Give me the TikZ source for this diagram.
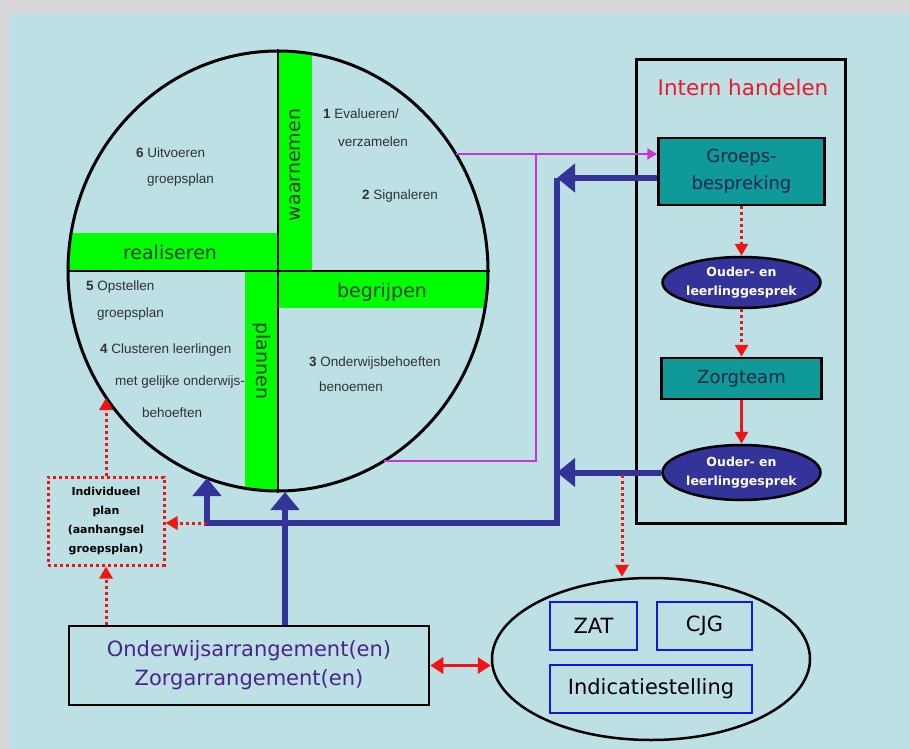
\documentclass[tikz,border=0pt]{standalone}
\usepackage{fontspec}
\setmainfont{Liberation Sans}
\newfontfamily\comicfont{DejaVu Sans}
\usetikzlibrary{shapes.geometric,arrows.meta}
\definecolor{panel}{RGB}{188,224,227}
\definecolor{frame}{RGB}{216,216,216}
\definecolor{bandgreen}{RGB}{0,255,0}
\definecolor{bandtext}{RGB}{25,60,25}
\definecolor{steptext}{RGB}{50,50,50}
\definecolor{tealbox}{RGB}{16,153,153}
\definecolor{navytext}{RGB}{25,40,70}
\definecolor{navy}{RGB}{51,51,153}
\definecolor{flowpink}{RGB}{204,51,204}
\definecolor{flowred}{RGB}{240,20,20}
\definecolor{titlered}{RGB}{235,25,45}
\definecolor{arrtext}{RGB}{75,35,140}
\definecolor{boxblue}{RGB}{20,20,235}

\begin{document}
\begin{tikzpicture}[x=1pt,y=-1pt,
		band/.style={fill=bandgreen},
		band label/.style={text=bandtext,font=\comicfont\fontsize{19pt}{19pt}\selectfont},
		step text/.style={anchor=west,inner sep=0pt,text=steptext,font=\fontsize{13.5pt}{14pt}\selectfont},
		teal box/.style={draw,line width=2.5pt,fill=tealbox,text=navytext,align=center,inner sep=0pt,
			font=\comicfont\fontsize{18pt}{27pt}\selectfont},
		talk/.style={ellipse,draw,line width=2.5pt,fill=navy,text=white,align=center,inner sep=0pt,
			minimum width=158pt,font=\comicfont\bfseries\fontsize{12.5pt}{19pt}\selectfont},
		blue box/.style={draw=boxblue,line width=2.5pt,inner sep=0pt,minimum height=48pt,
			font=\comicfont\fontsize{21pt}{21pt}\selectfont},
		blue flow/.style={navy,line width=6pt,-{Triangle[width=28pt,length=18pt]}},
		pink flow/.style={flowpink,line width=2pt},
		red dots/.style={flowred,line width=3pt,dash pattern=on 3pt off 3pt},
		red tip/.style={-{Triangle[width=13pt,length=12pt]}}]

	\useasboundingbox (0,0) rectangle (910,749);
	\fill[frame] (0,0) rectangle (910,749);
	\fill[panel] (9,13) rectangle (910,749);

	\begin{scope}
		\clip (278,271) ellipse [x radius=210, y radius=220];
		\fill[band] (278,40) rectangle (312,271);
		\fill[band] (60,233) rectangle (278,271);
		\fill[band] (278,271) rectangle (500,308);
		\fill[band] (245,271) rectangle (278,500);
	\end{scope}

	\node [ellipse, draw, line width=3pt, minimum width=420pt, minimum height=440pt, inner sep=0pt] (cycle) at (278,271) {};
	\draw[line width=2.5pt] (cycle.north) -- (cycle.south);
	\draw[line width=2.5pt] (cycle.west) -- (cycle.east);

	\node [band label, rotate=90] (lab-waar) at (295,165) {waarnemen};
	\node [band label] (lab-real) at (170,252) {realiseren};
	\node [band label] (lab-begr) at (382,292) {begrijpen};
	\node [band label, rotate=-90] (lab-plan) at (262,361) {plannen};

	\node [step text] (step-1) at (323,114) {\textbf{1} Evalueren/};
	\node [step text] (step-1b) at (338,142) {verzamelen};
	\node [step text] (step-2) at (362,196) {\textbf{2} Signaleren};
	\node [step text] (step-3) at (309,363) {\textbf{3} Onderwijsbehoeften};
	\node [step text] (step-3b) at (319,387) {benoemen};
	\node [step text] (step-4) at (100,350) {\textbf{4} Clusteren leerlingen};
	\node [step text] (step-4b) at (115,382) {met gelijke onderwijs-};
	\node [step text] (step-4c) at (142,413) {behoeften};
	\node [step text] (step-5) at (86,287) {\textbf{5} Opstellen};
	\node [step text] (step-5b) at (97,314) {groepsplan};
	\node [step text] (step-6) at (136,153) {\textbf{6} Uitvoeren};
	\node [step text] (step-6b) at (147,180) {groepsplan};

	\node [draw, line width=3pt, minimum width=209pt, minimum height=463pt] (box-intern) at (740.5,291.5) {};
	\node [text=titlered, font=\comicfont\fontsize{21.5pt}{21.5pt}\selectfont] (title) at (743,87) {Intern handelen};
	\node [teal box, minimum width=166pt, minimum height=67pt] (box-groeps) at (741.5,171.5) {Groeps-\\bespreking};
	\node [talk, minimum height=51pt] (talk-one) at (741.5,282.5) {Ouder- en\\leerlinggesprek};
	\node [teal box, minimum width=160pt, minimum height=41pt] (box-zorg) at (741.5,378.5) {Zorgteam};
	\node [talk, minimum height=55pt] (talk-two) at (741.5,472.5) {Ouder- en\\leerlinggesprek};

	\draw[red dots, red tip] (box-groeps) -- (talk-one);
	\draw[red dots, red tip] (talk-one) -- (box-zorg);
	\draw[flowred, line width=2.5pt, red tip] (box-zorg) -- (talk-two);

	\node [draw, line width=2.5pt, minimum width=360pt, minimum height=79pt, align=center, text=arrtext,
		font=\comicfont\fontsize{21pt}{29pt}\selectfont] (box-arr) at (249,665.5) {Onderwijsarrangement(en)\\Zorgarrangement(en)};
	\node [draw=flowred, line width=3pt, dash pattern=on 3pt off 3pt, minimum width=116pt, minimum height=88pt,
		align=center, inner sep=0pt, font=\comicfont\bfseries\fontsize{11pt}{19pt}\selectfont] (box-indiv) at (106,521)
		{Individueel\\plan\\(aanhangsel\\groepsplan)};

	\node [ellipse, draw, line width=2.5pt, minimum width=318pt, minimum height=162pt] (ell-extern) at (651,659) {};
	\node [blue box, minimum width=87pt] (box-zat) at (593.5,626) {ZAT};
	\node [blue box, minimum width=95pt] (box-cjg) at (704.5,626) {CJG};
	\node [blue box, minimum width=202pt] (box-ind) at (651,689) {Indicatiestelling};

	\coordinate (pt-s1) at (456,154);
	\coordinate (pt-s3) at (384,461);
	\coordinate (pt-join) at (536,154);
	\coordinate (pt-bar) at (557,178);
	\coordinate (pt-foot) at (557,523);
	\coordinate (pt-s4) at (207,478);
	\coordinate (pt-corner) at (207,523);
	\coordinate (pt-low) at (285,492);
	\coordinate (pt-s5) at (106,398);
	\coordinate (pt-drop) at (622,475);

	\draw[pink flow, -{Triangle[width=11pt,length=10pt]}] (pt-s1) -- (pt-s1 -| box-groeps.west);
	\draw[pink flow] (pt-s3) -| (pt-join);

	\draw[blue flow] (box-groeps.west |- pt-bar) -- (pt-bar);
	\draw[blue flow] (talk-two.west) -- (talk-two.west -| pt-bar);
	\draw[blue flow] (pt-bar) -- (pt-foot) -| (pt-s4);
	\draw[blue flow] (box-arr.north -| pt-low) -- (pt-low);

	\draw[red dots, red tip] (pt-corner) -- (box-indiv.east |- pt-corner);
	\draw[red dots, red tip] (box-indiv.north) -- (pt-s5);
	\draw[red dots, red tip] (box-arr.north -| box-indiv.south) -- (box-indiv.south);
	\draw[red dots, red tip] (pt-drop) -- (pt-drop |- ell-extern.north);
	\draw[flowred, line width=3pt, {Triangle[width=16pt,length=13pt]}-{Triangle[width=16pt,length=13pt]}]
		(box-arr.east) -- (box-arr.east -| ell-extern.west);
\end{tikzpicture}
\end{document}
